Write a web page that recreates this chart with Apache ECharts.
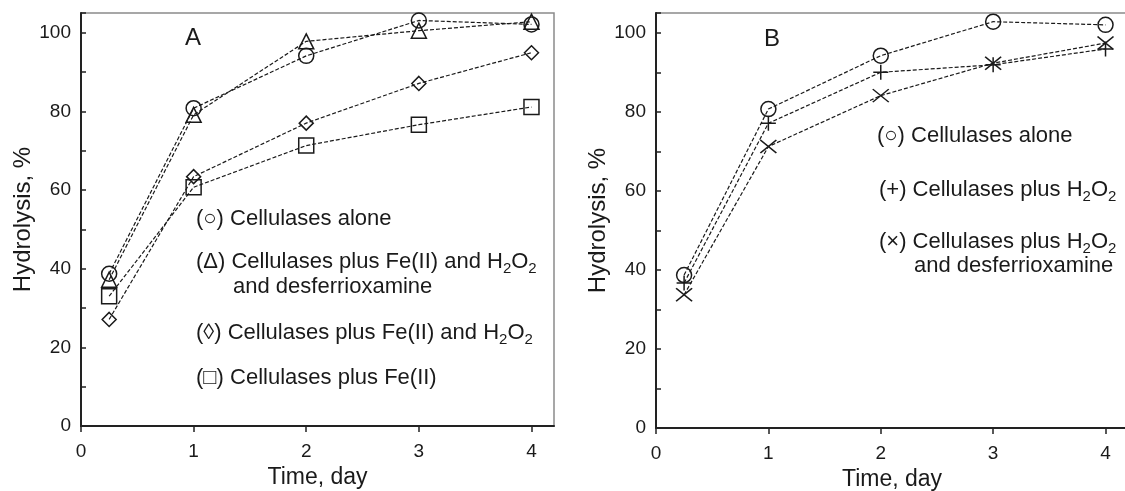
<!DOCTYPE html>
<html>
<head>
<meta charset="utf-8">
<script src="https://cdn.jsdelivr.net/npm/echarts@6/dist/echarts.min.js"></script>
<style>
  html, body { margin: 0; padding: 0; background: #fff; }
  #main { width: 1125px; height: 491px; }
</style>
</head>
<body>
<div id="main"></div>
<script>
// time points (day)
var days = [0.25, 1, 2, 3, 4];

// panel A
var aloneA = [38.7, 80.8, 94.1, 103.1, 102.1];
var feH2o2DfoA = [37.2, 79.1, 97.8, 100.5, 102.8];
var feH2o2A = [27.1, 63.4, 77.0, 87.1, 94.9];
var feA = [33.0, 60.7, 71.3, 76.6, 81.1];

// panel B
var aloneB = [38.7, 80.7, 94.2, 102.8, 102.0];
var h2o2B = [36.7, 77.1, 90.0, 91.9, 95.9];
var h2o2DfoB = [33.7, 71.2, 84.1, 92.3, 97.4];

var FONT = 'Liberation Sans';
var INK = '#1a1a1a';

function pts(ys) {
    return days.map(function (d, i) { return [d, ys[i]]; });
}

function serie(name, ys, idx, symbol, size) {
    return {
        name: name,
        type: 'line',
        xAxisIndex: idx,
        yAxisIndex: idx,
        data: pts(ys),
        symbol: symbol,
        symbolSize: size,
        showAllSymbol: true,
        clip: false,
        lineStyle: { color: INK, width: 1.2, type: [4, 2] },
        itemStyle: { color: 'rgba(0,0,0,0)', borderColor: INK, borderWidth: 1.5 },
        emphasis: { disabled: true }
    };
}

function xAx(idx) {
    return {
        type: 'value', gridIndex: idx, min: 0, max: 4.2, interval: 1,
        name: 'Time, day', nameLocation: 'middle', nameGap: 40,
        nameTextStyle: { fontFamily: FONT, fontSize: 23, color: INK },
        axisLine: { lineStyle: { color: '#222', width: 2 } },
        axisTick: { inside: false, length: 6, lineStyle: { color: '#222', width: 1.5 } },
        axisLabel: { fontFamily: FONT, fontSize: 19, color: INK, margin: 16, showMaxLabel: false,
            formatter: function (v) { return v <= 4 ? String(v) : ''; } },
        splitLine: { show: false }
    };
}

function yAx(idx) {
    return {
        type: 'value', gridIndex: idx, min: 0, max: 105, interval: 20,
        name: 'Hydrolysis, %', nameLocation: 'middle', nameGap: 46,
        nameTextStyle: { fontFamily: FONT, fontSize: 24, color: INK },
        axisLine: { show: true, lineStyle: { color: '#222', width: 2 } },
        axisTick: { inside: true, length: 5, lineStyle: { color: '#222', width: 1.5 } },
        minorTick: { show: true, splitNumber: 2, length: 5, lineStyle: { color: '#222', width: 1.5 } },
        axisLabel: { fontFamily: FONT, fontSize: 19, color: INK, margin: 10, showMaxLabel: false,
            formatter: function (v) { return v <= 100 ? String(v) : ''; } },
        splitLine: { show: false }
    };
}

var rich = { s: { fontFamily: FONT, fontSize: 15, color: INK, verticalAlign: 'bottom', lineHeight: 15 } };

function note(x, y, text, size) {
    return {
        type: 'text', x: x, y: y, silent: true,
        style: {
            text: text, fontFamily: FONT, fontSize: size || 22, fill: INK,
            verticalAlign: 'middle', align: 'left', lineHeight: 29, rich: rich
        }
    };
}

var chart = echarts.init(document.getElementById('main'));
chart.setOption({
    animation: false,
    grid: [
        { left: 81, top: 13, width: 473, height: 413, containLabel: false, outerBoundsMode: 'none',
          show: true, borderColor: '#8a8a8a', borderWidth: 1.5 },
        { left: 656, top: 13, width: 472, height: 415, containLabel: false, outerBoundsMode: 'none',
          show: true, borderColor: '#8a8a8a', borderWidth: 1.5 }
    ],
    xAxis: [xAx(0), xAx(1)],
    yAxis: [yAx(0), yAx(1)],
    series: [
        serie('Cellulases alone', aloneA, 0, 'circle', 15),
        serie('Cellulases plus Fe(II) and H2O2 and desferrioxamine', feH2o2DfoA, 0, 'triangle', 15),
        serie('Cellulases plus Fe(II) and H2O2', feH2o2A, 0, 'path://M5,0L10,5L5,10L0,5Z', 14),
        serie('Cellulases plus Fe(II)', feA, 0, 'rect', 15),
        serie('Cellulases alone', aloneB, 1, 'circle', 15),
        serie('Cellulases plus H2O2', h2o2B, 1, 'path://M5,0L5,10M0,5L10,5', 15),
        serie('Cellulases plus H2O2 and desferrioxamine', h2o2DfoB, 1, 'path://M0,0L10,10M10,0L0,10', [16, 13])
    ],
    graphic: [
        note(185, 38, 'A', 24),
        note(764, 39, 'B', 24),
        note(196, 219, '(○) Cellulases alone'),
        note(196, 262, '(Δ) Cellulases plus Fe(II) and H{s|2}O{s|2}'),
        note(233, 287, 'and desferrioxamine'),
        note(196, 333, '(◊) Cellulases plus Fe(II) and H{s|2}O{s|2}'),
        note(196, 378, '(□) Cellulases plus Fe(II)'),
        note(877, 136, '(○) Cellulases alone'),
        note(879, 190, '(+) Cellulases plus H{s|2}O{s|2}'),
        note(879, 242, '(×) Cellulases plus H{s|2}O{s|2}'),
        note(914, 266, 'and desferrioxamine')
    ]
});
</script>
</body>
</html>
